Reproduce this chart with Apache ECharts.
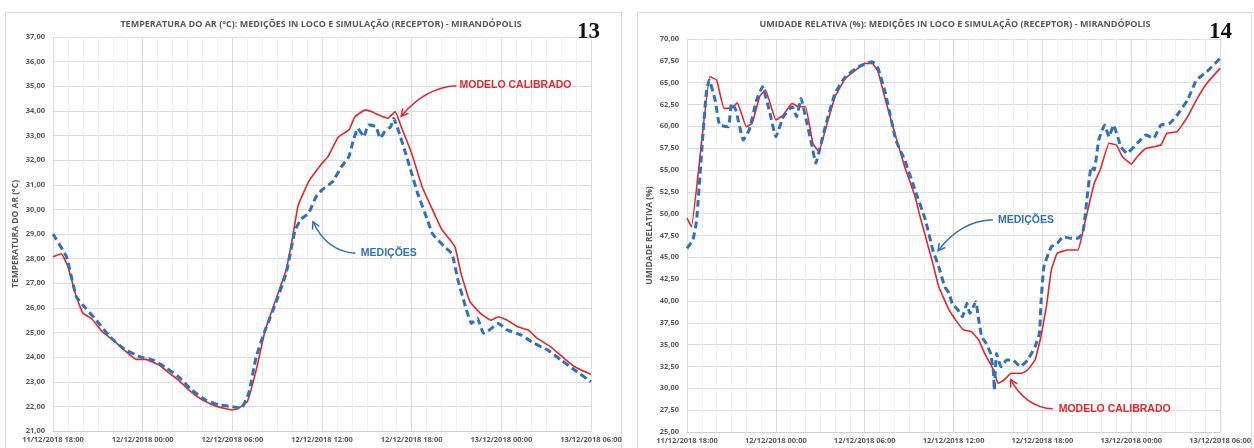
<!DOCTYPE html>
<html>
<head>
<meta charset="utf-8">
<script src="https://cdn.jsdelivr.net/npm/echarts@6/dist/echarts.min.js"></script>
<style>
  html, body { margin: 0; padding: 0; background: #fff; }
  #chart { width: 1254px; height: 448px; }
</style>
</head>
<body>
<div id="chart"></div>
<script>
// horas a partir de 11/12/2018 18:00
const xLabels = ['11/12/2018 18:00', '12/12/2018 00:00', '12/12/2018 06:00', '12/12/2018 12:00',
  '12/12/2018 18:00', '13/12/2018 00:00', '13/12/2018 06:00']

// 13 - temperatura do ar
const hTempModelo = [0, 0.56, 1.0, 1.56, 2.0, 2.56, 3.3, 4.0, 4.9, 5.56, 6.2, 7.1, 7.8, 8.4, 9.1, 10.0, 10.9, 12.0, 12.4, 13.0,
  13.6, 14.2, 14.9, 15.6, 16.0, 16.4, 17.1, 18.0, 18.4, 19.1, 19.8, 20.2, 20.9, 21.3, 21.8, 22.4, 22.9, 23.3, 24.0, 24.7,
  25.3, 26.0, 26.9, 27.3, 27.9, 28.6, 29.3, 29.8, 30.4, 31.1, 31.8, 32.4, 33.3, 34.2, 34.9, 36.0]
const tempModelo = [28.08, 28.2, 27.67, 26.45, 25.78, 25.58, 25.03, 24.7, 24.22, 23.91, 23.91, 23.68, 23.34, 23.07, 22.66, 22.26, 22.01, 21.85, 21.92, 22.19,
  23.48, 25.1, 26.32, 27.54, 28.76, 30.15, 31.12, 31.87, 32.14, 32.95, 33.22, 33.76, 34.04, 33.97, 33.83, 33.7, 33.97, 33.36, 32.28, 30.92,
  30.11, 29.2, 28.48, 27.4, 26.25, 25.78, 25.5, 25.64, 25.5, 25.23, 25.1, 24.76, 24.42, 23.95, 23.61, 23.3]

const hTempMedicoes = [0, 0.9, 1.56, 2.2, 2.9, 3.8, 4.7, 5.8, 6.7, 7.6, 8.4, 9.3, 10.2, 11.1, 12.0, 12.6, 13.1, 13.6, 14.2, 14.9,
  15.6, 16.2, 16.6, 17.1, 17.6, 18.0, 18.7, 19.3, 19.8, 20.1, 20.4, 20.8, 21.1, 21.6, 21.9, 22.2, 22.6, 22.8, 23.1, 23.6,
  24.0, 24.4, 25.1, 25.4, 26.2, 26.7, 27.1, 27.6, 28.0, 28.4, 28.8, 29.2, 29.8, 30.4, 31.3, 32.2, 33.1, 34.0, 34.9, 36.0]
const tempMedicoes = [29.0, 28.08, 26.45, 25.98, 25.5, 24.83, 24.36, 24.02, 23.88, 23.55, 23.2, 22.66, 22.26, 22.06, 21.99, 21.92, 22.54, 24.02, 25.1, 26.19,
  27.4, 29.16, 29.6, 29.84, 30.51, 30.79, 31.12, 31.73, 32.14, 32.82, 33.29, 32.95, 33.43, 33.36, 32.89, 33.16, 33.36, 33.7, 33.22, 32.28,
  31.46, 30.65, 29.5, 29.0, 28.48, 28.2, 27.13, 26.05, 25.37, 25.58, 24.97, 25.1, 25.37, 25.1, 24.9, 24.56, 24.29, 23.88, 23.48, 23.0]

// 14 - umidade relativa
const hUmidModelo = [0, 0.3, 1.54, 2.0, 2.5, 3.0, 3.4, 4.0, 4.4, 4.9, 5.3, 6.0, 6.5, 7.1, 7.5, 8.0, 8.5, 8.9, 9.4, 10.0,
  10.7, 11.4, 12.0, 12.5, 12.9, 13.4, 14.1, 14.7, 15.4, 15.8, 16.6, 17.0, 17.7, 18.3, 18.7, 19.2, 19.7, 20.1, 20.7, 21.0,
  21.4, 21.9, 22.6, 23.0, 23.5, 23.9, 24.3, 24.6, 25.0, 25.7, 26.4, 26.8, 27.5, 27.9, 28.5, 29.0, 29.4, 30.0, 30.4, 31.0,
  32.0, 32.4, 33.1, 33.8, 34.4, 35.1, 36.0]
const umidModelo = [49.5, 48.5, 65.68, 65.3, 62.06, 62.06, 62.7, 59.96, 60.35, 63.4, 64.16, 60.72, 61.3, 62.64, 62.25, 62.25, 58.06, 57.1, 59.96, 63.4,
  65.5, 66.45, 67.21, 67.21, 66.26, 63.02, 58.8, 55.38, 51.94, 49.27, 44.3, 41.64, 38.97, 37.44, 36.68, 36.49, 35.53, 34.0, 32.1, 30.57,
  30.95, 31.72, 31.72, 32.1, 33.24, 35.91, 39.73, 43.55, 45.46, 45.84, 45.84, 48.5, 53.48, 55.0, 58.06, 57.86, 56.52, 55.69, 56.52, 57.48,
  57.86, 59.2, 59.39, 61.1, 63.02, 64.93, 66.64]

const hUmidMedicoes = [0, 0.4, 0.65, 1.0, 1.3, 1.5, 1.9, 2.2, 2.8, 3.0, 3.3, 3.8, 4.2, 4.7, 5.1, 5.6, 6.0, 6.5, 7.1, 7.4,
  7.7, 8.0, 8.4, 8.7, 9.0, 9.4, 10.0, 10.7, 11.6, 12.5, 12.9, 13.4, 14.1, 14.7, 15.4, 16.1, 16.6, 17.0, 17.4, 17.7,
  17.9, 18.3, 18.6, 18.9, 19.1, 19.5, 19.7, 19.9, 20.2, 20.5, 20.7, 20.75, 20.9, 21.2, 21.6, 22.0, 22.5, 23.0, 23.5, 23.8,
  23.9, 24.1, 24.6, 25.0, 25.4, 25.9, 26.4, 26.7, 26.8, 27.3, 27.5, 27.8, 28.2, 28.5, 28.8, 29.3, 29.7, 30.4, 31.0, 31.5,
  32.0, 32.6, 33.1, 33.8, 34.4, 35.1, 36.0]
const umidMedicoes = [46.03, 46.99, 49.27, 57.3, 63.78, 65.3, 63.0, 60.15, 59.96, 62.64, 61.87, 58.43, 59.58, 63.02, 64.54, 61.5, 58.8, 61.1, 62.25, 61.1,
  63.2, 61.1, 58.06, 55.77, 57.67, 60.35, 63.78, 65.68, 66.83, 67.4, 66.64, 63.78, 58.43, 56.14, 52.7, 49.27, 45.84, 43.93, 41.64, 40.88,
  39.73, 38.97, 38.2, 39.73, 38.59, 39.92, 37.82, 35.91, 35.15, 34.0, 31.72, 29.8, 34.0, 32.48, 33.24, 33.24, 32.48, 33.24, 34.77, 36.3,
  39.73, 43.93, 46.22, 46.6, 47.37, 47.18, 47.18, 47.75, 48.5, 55.38, 55.0, 58.43, 60.15, 58.8, 60.15, 57.67, 56.9, 58.06, 59.01, 58.63,
  60.15, 60.35, 61.3, 63.02, 65.3, 66.26, 67.79]

const RED = '#e4262c'
const BLUE = '#2f72b8'
const GRAY = '#595959'
const FONT = 'Open Sans'

const pairs = (xs, ys) => xs.map((x, i) => [x, ys[i]])
const fmt = v => v.toFixed(2).replace('.', ',')

const chart = echarts.init(document.getElementById('chart'), null, { renderer: 'canvas' })

const xAxisBase = (gridIndex) => ({
  type: 'value',
  gridIndex,
  min: 0,
  max: 36,
  interval: 6,
  axisLine: { show: true, lineStyle: { color: '#d0d0d0' } },
  axisTick: { show: false },
  axisLabel: {
    margin: 5,
    color: GRAY,
    fontFamily: FONT,
    fontSize: 7.5,
    fontWeight: 'bold',
    formatter: v => xLabels[Math.round(v / 6)]
  },
  splitLine: { show: true, lineStyle: { color: '#dcdcdc' } },
  minorTick: { show: false, splitNumber: 6 },
  minorSplitLine: { show: true, lineStyle: { color: '#f1f1f1' } }
})

const yAxisBase = (gridIndex, min, max, interval, name) => ({
  type: 'value',
  gridIndex,
  min,
  max,
  interval,
  name,
  nameLocation: 'middle',
  nameGap: 33,
  nameTextStyle: { color: GRAY, fontFamily: FONT, fontSize: 8.5, fontWeight: 'bold' },
  axisLine: { show: false },
  axisTick: { show: false },
  axisLabel: { margin: 8, color: GRAY, fontFamily: FONT, fontSize: 7.5, fontWeight: 'bold', formatter: fmt },
  splitLine: { show: true, lineStyle: { color: '#dcdcdc' } }
})

const modeloLine = { color: RED, width: 1.6 }
const medicoesLine = { color: BLUE, width: 3, type: [7, 4] }

const option = {
  backgroundColor: '#fff',
  animation: false,
  title: [
    {
      text: 'TEMPERATURA DO AR (°C): MEDIÇÕES IN LOCO E SIMULAÇÃO (RECEPTOR) - MIRANDÓPOLIS',
      left: 316, top: 15, textAlign: 'center',
      textStyle: { color: GRAY, fontFamily: FONT, fontSize: 9, fontWeight: 'bold' }
    },
    {
      text: 'UMIDADE RELATIVA (%): MEDIÇÕES IN LOCO E SIMULAÇÃO (RECEPTOR) - MIRANDÓPOLIS',
      left: 950, top: 15, textAlign: 'center',
      textStyle: { color: GRAY, fontFamily: FONT, fontSize: 9, fontWeight: 'bold' }
    }
  ],
  grid: [
    { left: 53, top: 37, width: 538, height: 394 },
    { left: 687, top: 39, width: 537, height: 393 }
  ],
  xAxis: [xAxisBase(0), xAxisBase(1)],
  yAxis: [
    yAxisBase(0, 21, 37, 1, 'TEMPERATURA DO AR (°C)'),
    yAxisBase(1, 25, 70, 2.5, 'UMIDADE RELATIVA (%)')
  ],
  series: [
    { name: 'MODELO CALIBRADO', type: 'line', xAxisIndex: 0, yAxisIndex: 0, showSymbol: false,
      data: pairs(hTempModelo, tempModelo), lineStyle: modeloLine, smooth: 0.1 },
    { name: 'MEDIÇÕES', type: 'line', xAxisIndex: 0, yAxisIndex: 0, showSymbol: false,
      data: pairs(hTempMedicoes, tempMedicoes), lineStyle: medicoesLine, smooth: 0.12 },
    { name: 'MODELO CALIBRADO', type: 'line', xAxisIndex: 1, yAxisIndex: 1, showSymbol: false,
      data: pairs(hUmidModelo, umidModelo), lineStyle: modeloLine, smooth: 0.1 },
    { name: 'MEDIÇÕES', type: 'line', xAxisIndex: 1, yAxisIndex: 1, showSymbol: false,
      data: pairs(hUmidMedicoes, umidMedicoes), lineStyle: medicoesLine, smooth: 0.12 }
  ]
}

chart.setOption(option)

// anotações (rótulo + seta curva), em coordenadas de dados
const notes = [
  { grid: 0, text: 'MODELO CALIBRADO', color: RED, label: [27.2, 35.05], from: [27.0, 35.02], ctrl: [24.9, 34.95], to: [23.3, 33.78] },
  { grid: 0, text: 'MEDIÇÕES', color: BLUE, label: [20.6, 28.22], from: [20.25, 28.22], ctrl: [18.3, 28.3], to: [17.4, 29.5] },
  { grid: 1, text: 'MEDIÇÕES', color: BLUE, label: [21.0, 49.3], from: [20.65, 49.3], ctrl: [18.5, 49.2], to: [16.95, 45.75] },
  { grid: 1, text: 'MODELO CALIBRADO', color: RED, label: [25.1, 27.65], from: [24.7, 27.65], ctrl: [22.9, 27.8], to: [21.85, 31.0] }
]

const graphic = [
  { type: 'rect', shape: { x: 5.5, y: 12.5, width: 616, height: 436 }, style: { fill: null, stroke: '#d9d9d9', lineWidth: 1 }, z: -1 },
  { type: 'rect', shape: { x: 637.5, y: 12.5, width: 614, height: 436 }, style: { fill: null, stroke: '#d9d9d9', lineWidth: 1 }, z: -1 },
  { type: 'text', left: 577, top: 21, style: { text: '13', fill: '#111', font: 'bold 23px "Liberation Serif"' } },
  { type: 'text', left: 1209, top: 21, style: { text: '14', fill: '#111', font: 'bold 23px "Liberation Serif"' } }
]

notes.forEach(n => {
  const px = p => chart.convertToPixel({ gridIndex: n.grid }, p)
  const l = px(n.label), a = px(n.from), c = px(n.ctrl), b = px(n.to)
  const dx = b[0] - c[0], dy = b[1] - c[1]
  const len = Math.sqrt(dx * dx + dy * dy)
  const ux = dx / len, uy = dy / len
  const s = 7, w = 3.8
  graphic.push({
    type: 'bezierCurve',
    shape: { x1: a[0], y1: a[1], cpx1: c[0], cpy1: c[1], x2: b[0], y2: b[1] },
    style: { stroke: n.color, lineWidth: 1.5, fill: null },
    z: 10
  })
  graphic.push({
    type: 'polyline',
    shape: { points: [
      [b[0] - ux * s - uy * w, b[1] - uy * s + ux * w],
      [b[0], b[1]],
      [b[0] - ux * s + uy * w, b[1] - uy * s - ux * w]
    ] },
    style: { stroke: n.color, lineWidth: 1.5, fill: null },
    z: 10
  })
  graphic.push({
    type: 'text',
    x: l[0], y: l[1],
    style: { text: n.text, fill: n.color, font: 'bold 10.5px "Liberation Sans"', textVerticalAlign: 'middle', verticalAlign: 'middle' },
    z: 10
  })
})

chart.setOption({ graphic })
</script>
</body>
</html>
